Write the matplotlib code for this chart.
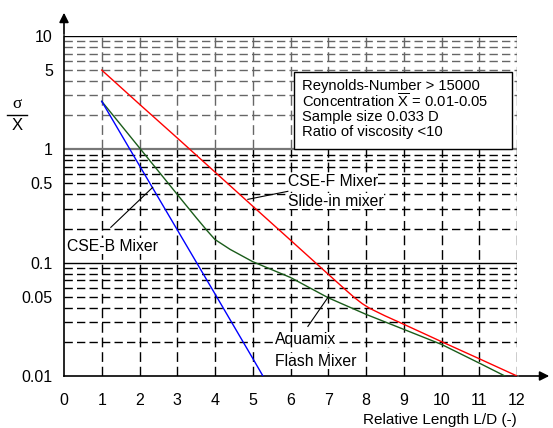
import numpy as np
import matplotlib
matplotlib.use("Agg")
import matplotlib.pyplot as plt
from matplotlib.patches import Rectangle

plt.rcParams['font.family'] = ['Liberation Sans', 'DejaVu Sans']
plt.rcParams['mathtext.fontset'] = 'custom'
plt.rcParams['mathtext.rm'] = 'Liberation Sans'
plt.rcParams['mathtext.it'] = 'Liberation Sans'

# values
red_x = [1, 2, 3, 4, 5, 6, 7, 7.5, 7.7, 7.9, 8.1, 8.5, 9, 10, 11, 12]
red_y = [5.0, 2.5, 1.26, 0.63, 0.315, 0.158, 0.079, 0.056, 0.049, 0.0435, 0.0395, 0.034, 0.0286, 0.0201, 0.0142, 0.01]

green_x = [1, 2, 3, 3.5, 3.8, 4, 4.4, 5, 6, 7, 8, 9, 10, 11, 11.68]
green_y = [2.65, 1.03, 0.40, 0.25, 0.19, 0.16, 0.131, 0.102, 0.074, 0.049, 0.035, 0.0258, 0.019, 0.013, 0.01]

blue_x = [1, 2, 3, 4, 5, 5.27]
blue_y = [2.65, 0.718, 0.195, 0.053, 0.0143, 0.01]

x_ticks = list(range(0, 13))
y_ticks = [0.01, 0.05, 0.1, 0.5, 1, 5, 10]
y_tick_labels = ['0.01', '0.05', '0.1', '0.5', '1', '5', '10']

info_lines = ['Reynolds-Number > 15000',
              r'Concentration $\overline{\mathrm{X}}$ = 0.01-0.05',
              'Sample size 0.033 D',
              'Ratio of viscosity <10']

fig = plt.figure(figsize=(5.53, 4.28), dpi=100)
ax = fig.add_axes([64 / 553, 1 - 376 / 428, (517 - 64) / 553, (376 - 36) / 428])
ax.set_yscale('log')
ax.set_xlim(0, 12)
ax.set_ylim(0.01, 10)

# grid
dash = (0, (6, 3))
for dec in [0.01, 0.1, 1]:
    col = '#666666' if dec == 1 else 'black'
    for m in range(2, 10):
        ax.axhline(dec * m, color=col, lw=1, ls=dash, zorder=1)
for xv in range(1, 13):
    ax.plot([xv, xv], [0.01, 1], color='black', lw=1, ls=(0, (7, 3.5)), zorder=1)
    ax.plot([xv, xv], [1, 10], color='#666666', lw=1, ls=(0, (7, 3.5)), zorder=1)
ax.axhline(10, color='black', lw=1, zorder=1)
ax.axhline(1, color='#777777', lw=1.6, zorder=1)
ax.axhline(0.1, color='black', lw=1, zorder=1)

ax.plot(red_x, red_y, color='red', lw=1, zorder=3)
ax.plot(green_x, green_y, color='#1a5c1a', lw=1, zorder=3)
ax.plot(blue_x, blue_y, color='blue', lw=1, zorder=3)

for s in ['top', 'right']:
    ax.spines[s].set_visible(False)
for s in ['left', 'bottom']:
    ax.spines[s].set_linewidth(1.2)

ax.set_xticks(x_ticks)
ax.set_xticklabels([str(v) for v in x_ticks])
ax.set_yticks(y_ticks)
ax.set_yticklabels(y_tick_labels)
ax.yaxis.set_minor_locator(matplotlib.ticker.NullLocator())
ax.tick_params(length=0, labelsize=11.5)
ax.tick_params(axis='x', pad=12)
ax.tick_params(axis='y', pad=8)

# axis arrows
ax.annotate('', xy=(64 / 553, 1 - 10 / 428), xytext=(64 / 553, 1 - 37 / 428),
            xycoords='figure fraction',
            arrowprops=dict(arrowstyle='-|>', color='black', lw=1.2, mutation_scale=14))
ax.annotate('', xy=(552 / 553, 1 - 376 / 428), xytext=(516 / 553, 1 - 376 / 428),
            xycoords='figure fraction',
            arrowprops=dict(arrowstyle='-|>', color='black', lw=1.2, mutation_scale=14))

# y label: sigma over X
fig.text(17 / 553, 1 - 104 / 428, 'σ', family='Liberation Serif', fontsize=12.5, ha='center', va='center')
fig.add_artist(plt.Line2D([7 / 553, 27 / 553], [1 - 115 / 428, 1 - 115 / 428], color='black', lw=1))
fig.text(17 / 553, 1 - 126 / 428, 'X', fontsize=12, ha='center', va='center')

ax.text(1.0, -0.13, 'Relative Length L/D (-)', transform=ax.transAxes, ha='right', va='center', fontsize=11)

# info box
ax.add_patch(Rectangle((6.09, 1.0), 11.86 - 6.09, 4.78 - 1.0, facecolor='white',
                       edgecolor='black', lw=1, zorder=4))
for i, line in enumerate(info_lines):
    ax.text(6.3, 10 ** ((150 - (87 + 15.3 * i)) / 113.3), line, fontsize=10.6, va='center', ha='left', zorder=5)

# curve labels
wb = dict(facecolor='white', edgecolor='none', pad=0.3)
fs = 11.3
ax.text(5.93, 0.522, 'CSE-F Mixer', fontsize=fs, va='center', bbox=wb, zorder=4)
ax.text(5.93, 0.348, 'Slide-in mixer', fontsize=fs, va='center', bbox=wb, zorder=4)
ax.plot([4.87, 5.93], [0.362, 0.426], color='black', lw=0.8, zorder=5)

ax.text(0.074, 0.139, 'CSE-B Mixer', fontsize=fs, va='center', bbox=wb, zorder=4)
ax.plot([1.24, 2.35], [0.205, 0.462], color='black', lw=0.8, zorder=5)

ax.text(5.58, 0.021, 'Aquamix', fontsize=fs, va='center', bbox=wb, zorder=4)
ax.text(5.58, 0.01345, 'Flash Mixer', fontsize=fs, va='center', bbox=wb, zorder=4)
ax.plot([6.46, 7.01], [0.0274, 0.0504], color='black', lw=0.8, zorder=5)

fig.savefig('out.png', dpi=100)
